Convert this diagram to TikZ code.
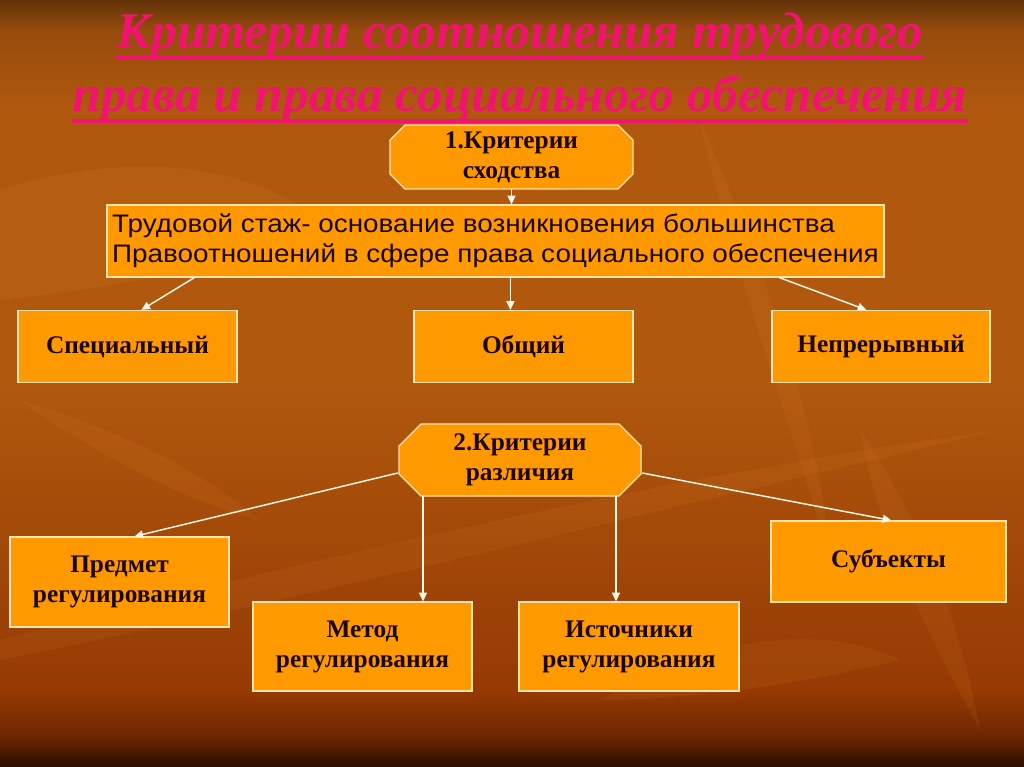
\documentclass[tikz,border=0pt]{standalone}
\usepackage{fontspec}
\setmainfont{Liberation Serif}
\newfontfamily\widesans[FakeStretch=1.1]{Liberation Sans}
\usetikzlibrary{arrows.meta,calc}

\definecolor{boxorange}{RGB}{255,153,0}
\definecolor{boxedge}{RGB}{255,228,175}
\definecolor{titlepink}{RGB}{240,20,110}
\definecolor{inkbrown}{RGB}{30,6,0}
\definecolor{linecream}{RGB}{255,246,228}
\definecolor{bgtop}{RGB}{98,50,8}
\definecolor{bgupper}{RGB}{150,76,12}
\definecolor{bgmid}{RGB}{176,88,14}
\definecolor{bglow}{RGB}{150,58,4}
\definecolor{bgdark}{RGB}{110,38,0}
\definecolor{bgbot}{RGB}{42,14,0}
\definecolor{leafglow}{RGB}{230,140,50}

\pgfdeclareverticalshading{slidebg}{100bp}{color(0bp)=(bgbot); color(25bp)=(bgbot);
  color(27bp)=(bgdark); color(30bp)=(bglow); color(50bp)=(bgmid); color(68bp)=(bgmid);
  color(73bp)=(bgupper); color(75bp)=(bgtop); color(100bp)=(bgtop)}

\tikzset{
  boxtext/.style={align=center, text=inkbrown, inner sep=0pt,
    font=\bfseries\fontsize{19}{22.5}\selectfont},
  box/.style={boxtext, draw=boxedge, fill=boxorange, line width=0.9pt},
  octshape/.style={draw=boxedge, fill=boxorange, line width=0.9pt},
  arr/.style={draw=linecream, line width=1.1pt, -{Triangle[width=6pt,length=6.5pt]}},
  leaf/.style={fill=leafglow, fill opacity=0.10},
  titletext/.style={anchor=base, inner sep=0, text=titlepink,
    font=\bfseries\itshape\fontsize{38.5}{44}\selectfont},
  titleline/.style={draw=titlepink, line width=3pt}
}

% octagon: centre x, centre y, half width, half height, chamfer
\newcommand{\octagon}[5]{%
  \draw[octshape] ({#1-#3+#5},{#2-#4}) -- ({#1+#3-#5},{#2-#4}) -- ({#1+#3},{#2-#4+#5})
    -- ({#1+#3},{#2+#4-#5}) -- ({#1+#3-#5},{#2+#4}) -- ({#1-#3+#5},{#2+#4})
    -- ({#1-#3},{#2+#4-#5}) -- ({#1-#3},{#2-#4+#5}) -- cycle;}

\begin{document}
\begin{tikzpicture}[x=0.75pt,y=0.75pt,yscale=-1,xscale=1]
%Background
\shade[shading=slidebg] (0,0) rectangle (1024,767);
\useasboundingbox (0,0) rectangle (1024,767);

%Leaves
\fill[leaf] (0,190) .. controls (120,150) and (260,160) .. (330,230) .. controls (230,270) and (90,290) .. (0,300) -- cycle;
\fill[leaf] (0,640) .. controls (300,560) and (700,470) .. (1000,430) .. controls (700,500) and (300,600) .. (0,660) -- cycle;
\fill[leaf] (700,120) .. controls (760,260) and (820,420) .. (830,560) .. controls (790,420) and (730,260) .. (700,120) -- cycle;
\fill[leaf] (860,430) .. controls (920,520) and (960,620) .. (980,730) .. controls (930,640) and (880,540) .. (860,430) -- cycle;
\fill[leaf] (600,700) .. controls (700,640) and (820,620) .. (900,660) .. controls (820,680) and (700,700) .. (600,700) -- cycle;
\fill[leaf] (20,400) .. controls (120,430) and (200,470) .. (260,520) .. controls (180,500) and (90,450) .. (20,400) -- cycle;

%Title
\node[titletext] (t1) at (520,49) {Критерии соотношения трудового};
\node[titletext] (t2) at (520,111) {права и права социального обеспечения};
\draw[titleline] ($(t1.base west)+(0,9)$) -- ($(t1.base east)+(0,9)$);
\draw[titleline] ($(t2.base west)+(0,10)$) -- ($(t2.base east)+(0,10)$);

%Criteria of similarity
\octagon{511.5}{157}{121.5}{32}{15}
\node[boxtext, minimum width=182.25pt, minimum height=48pt] (sim) at (511.5,157) {1.Критерии\\сходства};
\node[box, minimum width=582.75pt, minimum height=54pt, align=left,
  font=\widesans\fontsize{19}{22.5}\selectfont] (stazh) at (495.5,241)
  {Трудовой стаж- основание возникновения большинства\\Правоотношений в сфере права социального обеспечения};
\node[box, minimum width=164.25pt, minimum height=54pt] (spec) at (127.5,346.5) {Специальный};
\node[box, minimum width=164.25pt, minimum height=54pt] (obsh) at (523.5,346.5) {Общий};
\node[box, minimum width=163.5pt, minimum height=54pt] (nepr) at (881,346.5) {Непрерывный};

%Criteria of difference
\octagon{520}{460}{121}{36}{22}
\node[boxtext, minimum width=181.5pt, minimum height=54pt] (diff) at (520,460) {2.Критерии\\различия};
\node[box, minimum width=164.25pt, minimum height=67.5pt] (pred) at (119.5,582) {Предмет\\регулирования};
\node[box, minimum width=176.25pt, minimum height=60.75pt] (subj) at (888.5,561.5) {Субъекты};
\node[box, minimum width=164.25pt, minimum height=66.75pt] (metod) at (362.5,646.5) {Метод\\регулирования};
\node[box, minimum width=165pt, minimum height=66.75pt] (istoch) at (629,646.5) {Источники\\регулирования};

%Arrows
\draw[arr] (sim.south) -- (sim.south |- stazh.north);
\draw[arr] ($(stazh.south west)+(88,0)$) -- ($(spec.north west)+(124,0)$);
\draw[arr] ($(stazh.south west)+(404,0)$) -- ($(obsh.north west)+(97,0)$);
\draw[arr] ($(stazh.south west)+(673,0)$) -- ($(nepr.north west)+(95,0)$);
\draw[arr] ($(diff.west)+(-1,13)$) -- ($(pred.north west)+(125,0)$);
\draw[arr] ($(diff.east)+(1,13)$) -- ($(subj.north west)+(121,0)$);
\draw[arr] ($(diff.south)+(-97,0)$) coordinate (d1) -- (d1 |- metod.north);
\draw[arr] ($(diff.south)+(96,0)$) coordinate (d2) -- (d2 |- istoch.north);

\end{tikzpicture}
\end{document}
